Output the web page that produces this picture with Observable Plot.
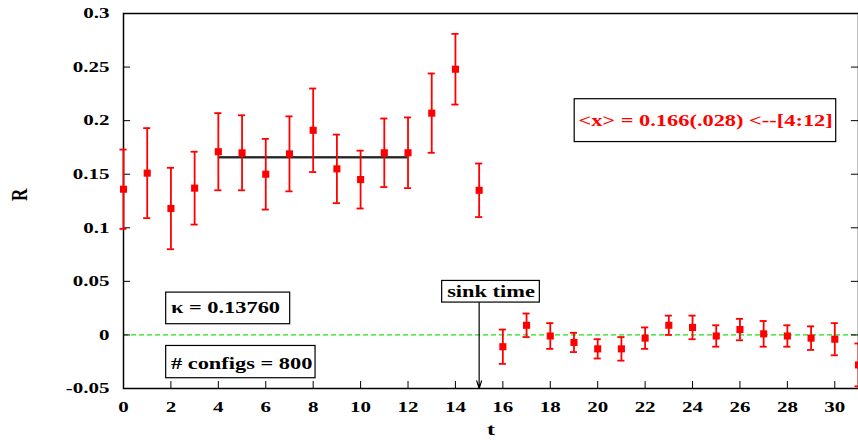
<!DOCTYPE html>
<html><head><meta charset="utf-8">
<script src="https://cdn.jsdelivr.net/npm/d3@7"></script>
<script src="https://cdn.jsdelivr.net/npm/@observablehq/plot@0.6"></script>
<style>
body{margin:0;background:#fff}
svg{display:block}
svg, svg text, svg g { font-family: "Liberation Serif", "Times New Roman", serif !important; font-weight: bold !important; }
</style>
</head><body><div id="chart"></div>
<script>
const tValues = [0,1,2,3,4,5,6,7,8,9,10,11,12,13,14,15,16,17,18,19,20,21,22,23,24,25,26,27,28,29,30,31];
const rValues = [0.136,0.151,0.118,0.137,0.171,0.170,0.150,0.169,0.191,0.155,0.145,0.170,0.170,0.207,0.248,0.135,
                 -0.011,0.009,-0.001,-0.007,-0.013,-0.013,-0.003,0.009,0.007,-0.001,0.005,0.001,-0.001,-0.003,-0.004,-0.028];
const errValues = [0.037,0.042,0.038,0.034,0.036,0.035,0.033,0.035,0.039,0.032,0.027,0.032,0.033,0.037,0.033,0.025,
                   0.016,0.011,0.012,0.009,0.009,0.011,0.010,0.009,0.011,0.010,0.010,0.012,0.010,0.011,0.015,0.020];
const fitValue = 0.166;
const fitRange = [4, 12];
const sinkTime = 15;
const xTicks = [0,2,4,6,8,10,12,14,16,18,20,22,24,26,28,30];
const xTickLabels = ["0","2","4","6","8","10","12","14","16","18","20","22","24","26","28","30"];
const yTicks = [-0.05,0,0.05,0.1,0.15,0.2,0.25,0.3];
const yTickLabels = ["-0.05","0","0.05","0.1","0.15","0.2","0.25","0.3"];
const fitLabel = "<x> = 0.166(.028) <--[4:12]";
const kappaLabel = "\u03ba = 0.13760";
const configsLabel = "# configs = 800";
const sinkLabel = "sink time";

const data = tValues.map((t, i) => ({t, R: rValues[i], lo: rValues[i] - errValues[i], hi: rValues[i] + errValues[i]}));
const CAP = 0.15;
const boxes = [
  {x1: 19.03, x2: 30.06, y1: 0.180, y2: 0.220},
  {x1: 1.80, x2: 7.03, y1: 0.0100, y2: 0.0395},
  {x1: 1.80, x2: 8.10, y1: -0.0404, y2: -0.0103},
  {x1: 13.44, x2: 17.56, y1: 0.0302, y2: 0.0504}
];

const plot = Plot.plot({
  width: 858, height: 446,
  marginLeft: 123, marginRight: 0, marginTop: 13, marginBottom: 58,
  style: {fontSize: "15px", background: "#fff", color: "#000", overflow: "hidden"},
  x: {domain: [0, 31], label: null},
  y: {domain: [-0.05, 0.3], label: null},
  marks: [
    Plot.ruleY([0], {stroke: "#1fe01f", strokeDasharray: "5,3", strokeWidth: 1.3}),
    Plot.ruleY(yTicks, {x1: 0, x2: 0.3, stroke: "#000", strokeWidth: 1}),
    Plot.ruleY(yTicks, {x1: 30.7, x2: 31, stroke: "#000", strokeWidth: 1}),
    Plot.ruleX(xTicks, {y1: -0.05, y2: -0.0435, stroke: "#000", strokeWidth: 1}),
    Plot.frame({stroke: "#000", strokeWidth: 1.5}),
    Plot.axisX({ticks: xTicks, tickSize: 0, tickPadding: 13, tickFormat: d => xTickLabels[xTicks.indexOf(d)], label: null, fontSize: 15}),
    Plot.axisY({ticks: yTicks, tickSize: 0, tickPadding: 14, tickFormat: d => yTickLabels[yTicks.indexOf(d)], label: null, fontSize: 15}),
    // fit line
    Plot.ruleY([fitValue], {x1: fitRange[0], x2: fitRange[1], stroke: "#999", strokeWidth: 2, dy: 1}),
    Plot.ruleY([fitValue], {x1: fitRange[0], x2: fitRange[1], stroke: "#000", strokeWidth: 1.6}),
    // error bars
    Plot.ruleX(data, {x: "t", y1: "lo", y2: "hi", stroke: "#ff0000", strokeWidth: 1.8}),
    Plot.ruleY(data, {y: "lo", x1: d => d.t - CAP, x2: d => d.t + CAP, stroke: "#ff0000", strokeWidth: 1.8}),
    Plot.ruleY(data, {y: "hi", x1: d => d.t - CAP, x2: d => d.t + CAP, stroke: "#ff0000", strokeWidth: 1.8}),
    Plot.dot(data, {x: "t", y: "R", symbol: "square", r: 4, fill: "#ff0000", stroke: "none"}),
    // annotation boxes
    Plot.rect(boxes, {x1: "x1", x2: "x2", y1: "y1", y2: "y2", fill: "#fff", stroke: "#000", strokeWidth: 1.2}),
    Plot.text([fitLabel], {x: 24.55, y: 0.200, text: d => d, fill: "#ff0000", fontSize: 16, textAnchor: "middle"}),
    Plot.text([kappaLabel], {x: 2.0, y: 0.0249, text: d => d, fill: "#000", fontSize: 16, textAnchor: "start"}),
    Plot.text([configsLabel], {x: 2.0, y: -0.0274, text: d => d, fill: "#000", fontSize: 16, textAnchor: "start"}),
    Plot.text([sinkLabel], {x: 15.5, y: 0.0401, text: d => d, fill: "#000", fontSize: 16, textAnchor: "middle"}),
    Plot.arrow([sinkTime], {x1: d => d, x2: d => d, y1: 0.0302, y2: -0.05, stroke: "#000", strokeWidth: 1.2, headLength: 10, headAngle: 35}),
    // axis titles
    Plot.text(["t"], {frameAnchor: "bottom", dy: 46, text: d => d, fontSize: 17}),
    Plot.text(["R"], {frameAnchor: "left", dx: -104, rotate: -90, text: d => d, fontSize: 17})
  ]
});

plot.querySelectorAll("text").forEach(el => {
  const tr = el.getAttribute("transform") || "";
  if (tr.includes("rotate")) el.setAttribute("transform", tr.replace("rotate", "scale(1.4,1) rotate"));
  else el.setAttribute("transform", (tr + " scale(1.4,1)").trim());
});
document.getElementById("chart").appendChild(plot);
</script>
</body></html>
